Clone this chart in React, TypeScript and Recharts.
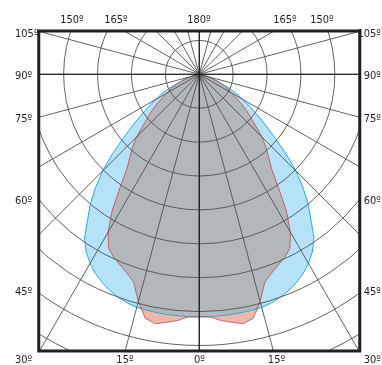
import React from "react";
import { RadarChart, Radar, PolarGrid, PolarAngleAxis, PolarRadiusAxis } from "recharts";

// angle from nadir (deg), one half of the diagram
const ANGLES = [
  0, 2.5, 5, 7.5, 10, 12.5, 15, 17.5, 20, 22.5, 25, 27.5, 30, 32.5, 35, 37.5, 40, 42.5, 45,
  47.5, 50, 52.5, 55, 57.5, 60, 62.5, 65, 67.5, 70, 72.5, 75, 77.5, 80, 82.5, 85, 87.5, 90,
];

// blue plane (cd/klm)
const BLUE_RIGHT = [
  716, 716, 715, 715, 714, 713, 712, 707, 700, 690, 678, 663, 644, 621, 590, 541, 500, 453, 403,
  347, 291, 247, 209, 176, 147, 124, 100, 65, 44, 29, 21, 13, 9, 6, 3, 1, 0,
];
const BLUE_LEFT = [
  716, 716, 715, 715, 714, 713, 712, 707, 700, 690, 678, 663, 644, 621, 590, 541, 500, 453, 403,
  347, 291, 247, 209, 176, 147, 124, 100, 65, 44, 29, 21, 13, 9, 6, 3, 1, 0,
];

// red plane (cd/klm)
const RED_RIGHT = [
  715, 716, 729, 738, 747, 737, 694, 643, 624, 609, 596, 579, 538, 479, 407, 350, 318, 291, 262,
  226, 199, 176, 153, 129, 109, 97, 85, 68, 53, 41, 29, 21, 13, 9, 4, 1, 0,
];
const RED_LEFT = [
  715, 716, 729, 738, 747, 737, 694, 643, 624, 609, 596, 579, 538, 479, 407, 350, 318, 291, 262,
  226, 199, 176, 153, 129, 109, 97, 85, 68, 53, 41, 29, 21, 13, 9, 4, 1, 0,
];

const GRID_ANGLES = [
  -180, -165, -150, -135, -120, -105, -90, -75, -60, -45, -30, -15,
  0, 15, 30, 45, 60, 75, 90, 105, 120, 135, 150, 165,
];
const AXIS_ANGLES = [-180, -90, 0, 90];

const TOP_LABELS = ["150º", "165º", "180º", "165º", "150º"];
const SIDE_LABELS = ["105º", "90º", "75º", "60º", "45º", "30º"];
const BOTTOM_LABELS = ["15º", "0º", "15º"];

const TOP_X = [72, 116, 199, 285, 322];
const SIDE_Y = [33, 75, 118, 200, 291, 359];
const BOTTOM_X = [125, 199.5, 276.5];

const rows = [
  ...ANGLES.map((a, i) => ({ gamma: -a, blue: BLUE_LEFT[i], red: RED_LEFT[i] }))
    .slice(1)
    .reverse(),
  ...ANGLES.map((a, i) => ({ gamma: a, blue: BLUE_RIGHT[i], red: RED_RIGHT[i] })),
];

const W = 319;
const H = 318;
const CX = 159.25;
const CY = 42.3;

function Polar({ ticks, rings, children }: { ticks: number[]; rings: number; children: React.ReactNode }) {
  return (
    <RadarChart
      width={W}
      height={H}
      cx={CX}
      cy={CY}
      innerRadius={0}
      outerRadius={339}
      startAngle={-270}
      endAngle={90}
      data={rows}
      margin={{ top: 0, right: 0, bottom: 0, left: 0 }}
    >
      <PolarAngleAxis
        dataKey="gamma"
        type="number"
        domain={[-180, 180]}
        ticks={ticks}
        tickCount={ticks.length + 1}
        tick={false}
        axisLine={false}
      />
      <PolarRadiusAxis domain={[0, 1000]} tickCount={rings} tick={false} axisLine={false} />
      {children}
    </RadarChart>
  );
}

const layer: React.CSSProperties = { position: "absolute", left: 0, top: 0 };
const font = "'Liberation Sans Narrow', 'DejaVu Sans Condensed', 'Roboto Condensed', sans-serif";

export default function App() {
  return (
    <div style={{ position: "absolute", left: 0, top: 0, width: 382, height: 365, background: "#fff" }}>
      <style>{`.blend-multiply { mix-blend-mode: multiply; } .blend-lighten { mix-blend-mode: lighten; }`}</style>
      <div style={{ position: "absolute", left: 40, top: 32, width: W, height: H, overflow: "hidden" }}>
        <div style={layer}>
          <Polar ticks={GRID_ANGLES} rings={11}>
            <Radar dataKey="blue" fill="#b5e2f6" fillOpacity={1} stroke="none" isAnimationActive={false} />
            <Radar
              className="blend-multiply"
              dataKey="red"
              fill="#e9b9ae"
              fillOpacity={1}
              stroke="none"
              isAnimationActive={false}
            />
            <Radar
              className="blend-lighten"
              dataKey="blue"
              fill="#b3b6ba"
              fillOpacity={1}
              stroke="none"
              isAnimationActive={false}
            />
            <Radar dataKey="blue" fill="none" stroke="#29abe2" strokeWidth={1} isAnimationActive={false} />
            <Radar dataKey="red" fill="none" stroke="#c8474a" strokeWidth={0.8} isAnimationActive={false} />
          </Polar>
        </div>
        <div style={layer}>
          <Polar ticks={GRID_ANGLES} rings={11}>
            <Radar dataKey="blue" fill="none" stroke="none" isAnimationActive={false} />
            <PolarGrid gridType="circle" stroke="#505050" strokeWidth={0.9} />
          </Polar>
        </div>
        <div style={layer}>
          <Polar ticks={AXIS_ANGLES} rings={2}>
            <Radar dataKey="blue" fill="none" stroke="none" isAnimationActive={false} />
            <PolarGrid gridType="circle" stroke="#111" strokeWidth={1.1} />
          </Polar>
        </div>
      </div>
      <svg width={382} height={365} style={layer} fontFamily={font} fontSize={11} fill="#231f20">
        <rect x={38.75} y={31} width={321} height={320} fill="none" stroke="#231f20" strokeWidth={3} />
        {TOP_LABELS.map((t, i) => (
          <text key={"t" + i} x={TOP_X[i]} y={19} textAnchor="middle" dominantBaseline="central">
            {t}
          </text>
        ))}
        {SIDE_LABELS.map((t, i) => (
          <text key={"l" + i} x={15} y={SIDE_Y[i]} dominantBaseline="central">
            {t}
          </text>
        ))}
        {SIDE_LABELS.map((t, i) => (
          <text key={"r" + i} x={381} y={SIDE_Y[i]} textAnchor="end" dominantBaseline="central">
            {t}
          </text>
        ))}
        {BOTTOM_LABELS.map((t, i) => (
          <text key={"b" + i} x={BOTTOM_X[i]} y={359} textAnchor="middle" dominantBaseline="central">
            {t}
          </text>
        ))}
      </svg>
    </div>
  );
}
